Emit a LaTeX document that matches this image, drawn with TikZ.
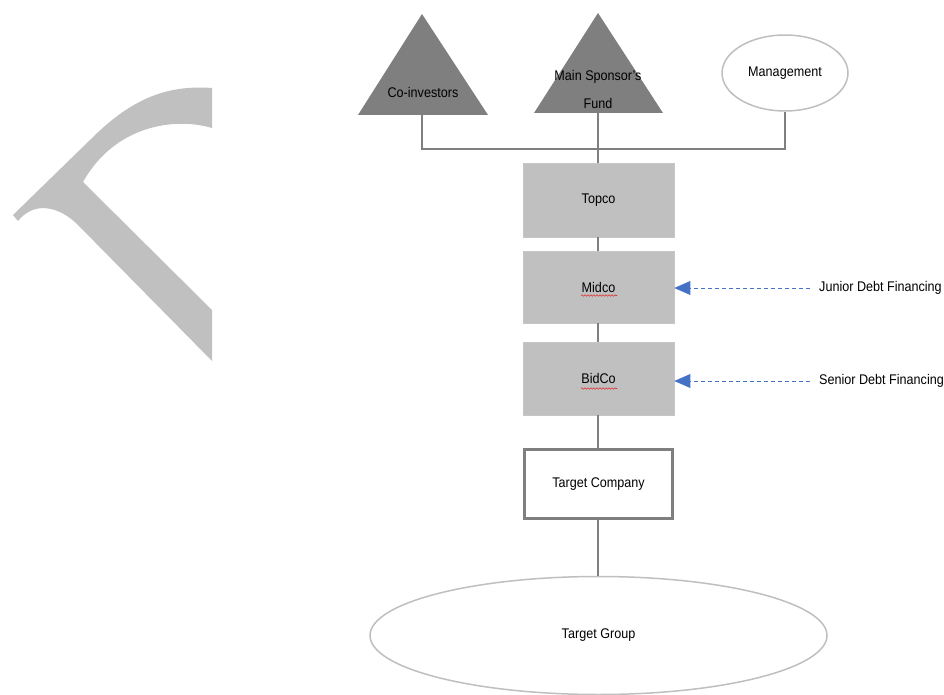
\documentclass[tikz,border=0pt]{standalone}
\usepackage{fontspec}
\setmainfont{Liberation Sans}[FakeStretch=0.9]
\usetikzlibrary{arrows.meta,decorations.pathmorphing,shapes.geometric}
\definecolor{linegray}{HTML}{7F7F7F}
\definecolor{boxgray}{HTML}{C0C0C0}
\definecolor{lightedge}{HTML}{BFBFBF}
\definecolor{dashblue}{HTML}{4472C4}
\definecolor{wavyred}{HTML}{E03030}
\begin{document}
\begin{tikzpicture}[x=1pt,y=-1pt,
  every node/.style={font=\fontsize{14}{16}\selectfont, text=black, inner sep=0pt},
  conn/.style={draw=linegray, line width=2.2pt},
  tri/.style={fill=linegray},
  greybox/.style={fill=boxgray, draw=boxgray!90!white, line width=0.5pt, minimum width=151pt},
  whitebox/.style={fill=white, draw=linegray, line width=2.2pt, minimum width=148pt, minimum height=69pt},
  oval/.style={ellipse, draw=lightedge, line width=1.5pt, fill=white},
  debt/.style={draw=dashblue, line width=0.8pt, dash pattern=on 4pt off 3pt},
  tipblue/.style={fill=dashblue},
  wavy/.style={draw=wavyred, line width=0.6pt, decorate, decoration={snake, amplitude=0.7pt, segment length=3pt}}
]
\useasboundingbox (0,0) rectangle (944,695);
% watermark fragment
\fill[boxgray] (13,215) -- (90,140) .. controls (125,105) and (160,84) .. (212,88)
  -- (212,128) .. controls (175,117) and (115,125) .. (83,182)
  -- (212,310) -- (212,361) -- (78,225) .. controls (60,207) and (35,200) .. (18,221) -- cycle;

% owners
\fill[tri] (358,115) -- (422,14) -- (488,115) -- cycle;
\node (coinv) at (423,92) {Co-investors};
\coordinate (coinvb) at (422,115);

\fill[tri] (534,113) -- (598,13) -- (663,113) -- cycle;
\node (msfa) at (598,77) {Main Sponsor's};
\node (msfb) at (598,103) {Fund};
\coordinate (msfbase) at (598,113);

\node[oval, minimum width=126pt, minimum height=76pt] (mgmt) at (785,73) {Management};

% structure
\node[greybox, minimum height=74pt] (topco) at (598.5,200) {Topco};
\node[greybox, minimum height=72pt] (midco) at (598.5,287) {Midco};
\node[greybox, minimum height=73pt] (bidco) at (598.5,378.5) {BidCo};
\node[whitebox] (target) at (598.5,484) {Target Company};
\node[oval, minimum width=457pt, minimum height=118pt] (tgroup) at (598.5,635.5) {Target Group};

% connectors
\coordinate (bus) at (598,149);
\draw[conn] (coinvb) |- (bus);
\draw[conn] (mgmt.south) |- (bus);
\draw[conn] (msfbase) -- (topco.north -| msfbase);
\draw[conn] (topco.south -| msfbase) -- (midco.north -| msfbase);
\draw[conn] (midco.south -| msfbase) -- (bidco.north -| msfbase);
\draw[conn] (bidco.south -| msfbase) -- (target.north -| msfbase);
\draw[conn] (target.south -| msfbase) -- (tgroup.north -| msfbase);

% debt financing
\node[anchor=west] (junior) at (819,288) {Junior Debt Financing};
\node[anchor=west] (senior) at (819,381) {Senior Debt Financing};
\coordinate (jtip) at (midco.east |- junior.west);
\coordinate (stip) at (bidco.east |- senior.west);
\draw[debt] ([xshift=-9pt]junior.west) -- ([xshift=16pt]jtip);
\draw[debt] ([xshift=-9pt]senior.west) -- ([xshift=16pt]stip);
\fill[tipblue] (jtip) -- ++(16,-7) -- ++(0,14) -- cycle;
\fill[tipblue] (stip) -- ++(16,-7) -- ++(0,14) -- cycle;

% spell-check underlines
\draw[wavy] (581,295.5) -- (617,295.5);
\draw[wavy] (581,388.5) -- (617,388.5);
\end{tikzpicture}
\end{document}
